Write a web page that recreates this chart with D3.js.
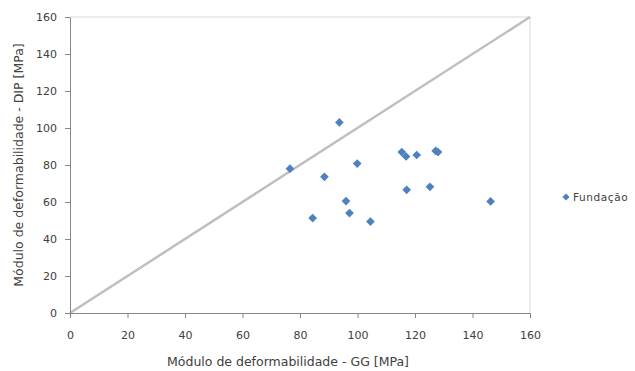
<!DOCTYPE html>
<html>
<head>
<meta charset="utf-8">
<script src="https://cdn.jsdelivr.net/npm/d3@7"></script>
<style>
  body { margin: 0; background: #fff; }
  text { font-family: "DejaVu Sans", Verdana, sans-serif; fill: #404040; }
</style>
</head>
<body>
<div id="chart"></div>
<script>
// GG vs DIP values
const ggValues = [93.7, 76.5, 88.5, 99.9, 115.4, 116.9, 120.6, 127.2, 128.0, 117.1, 125.2, 146.3, 96.0, 97.2, 84.4, 104.5];
const dipValues = [103.0, 78.0, 73.6, 80.8, 87.0, 84.6, 85.4, 87.6, 87.0, 66.6, 68.2, 60.3, 60.5, 54.0, 51.3, 49.4];
const seriesName = "Fundação";
const tickValues = [0, 20, 40, 60, 80, 100, 120, 140, 160];
const xTitle = "Módulo de deformabilidade - GG [MPa]";
const yTitle = "Módulo de deformabilidade - DIP [MPa]";

const W = 635, H = 371;
const margin = { top: 17, right: 105, bottom: 58, left: 70 };
const width = W - margin.left - margin.right;
const height = H - margin.top - margin.bottom;

const svg = d3.select("#chart").append("svg")
  .attr("width", W).attr("height", H);

const g = svg.append("g")
  .attr("transform", `translate(${margin.left},${margin.top})`);

const x = d3.scaleLinear().domain([0, 160]).range([0, width]);
const y = d3.scaleLinear().domain([0, 160]).range([height, 0]);

// plot area border (top and right)
g.append("path")
  .attr("d", `M0,0H${width}V${height}`)
  .attr("fill", "none")
  .attr("stroke", "#d9d9d9")
  .attr("stroke-width", 1);

// 1:1 line
g.append("line")
  .attr("x1", x(0)).attr("y1", y(0))
  .attr("x2", x(160)).attr("y2", y(160))
  .attr("stroke", "#bfbfbf")
  .attr("stroke-width", 2.5);

// axes
const xAxis = g.append("g")
  .attr("transform", `translate(0,${height})`)
  .call(d3.axisBottom(x).tickValues(tickValues).tickSize(5).tickSizeOuter(0).tickPadding(8));
const yAxis = g.append("g")
  .call(d3.axisLeft(y).tickValues(tickValues).tickSize(5).tickSizeOuter(0).tickPadding(8));

[xAxis, yAxis].forEach((ax) => {
  ax.selectAll("path, line").attr("stroke", "#868686");
  ax.selectAll("text").style("font-size", "11px").attr("fill", "#404040");
});
xAxis.selectAll("text").attr("dy", "1.2em");

// points
const points = ggValues.map((v, i) => ({ gg: v, dip: dipValues[i] }));
const diamond = d3.symbol().type(d3.symbolSquare).size(38);
g.selectAll(".pt")
  .data(points)
  .enter()
  .append("path")
  .attr("class", "pt")
  .attr("d", diamond)
  .attr("transform", (d) => `translate(${x(d.gg)},${y(d.dip)}) rotate(45)`)
  .attr("fill", "#4f81bd");

// axis titles
svg.append("text")
  .attr("x", 288)
  .attr("y", 366)
  .attr("text-anchor", "middle")
  .style("font-size", "12.5px")
  .text(xTitle);

svg.append("text")
  .attr("transform", "translate(23,165) rotate(-90)")
  .attr("text-anchor", "middle")
  .style("font-size", "12.5px")
  .text(yTitle);

// legend
const legend = svg.append("g").attr("transform", "translate(566,197)");
legend.append("path")
  .attr("d", d3.symbol().type(d3.symbolSquare).size(26))
  .attr("transform", "rotate(45)")
  .attr("fill", "#4f81bd");
legend.append("text")
  .attr("x", 7).attr("y", 4)
  .style("font-size", "10.5px")
  .style("letter-spacing", "0.6px")
  .text(seriesName);
</script>
</body>
</html>
